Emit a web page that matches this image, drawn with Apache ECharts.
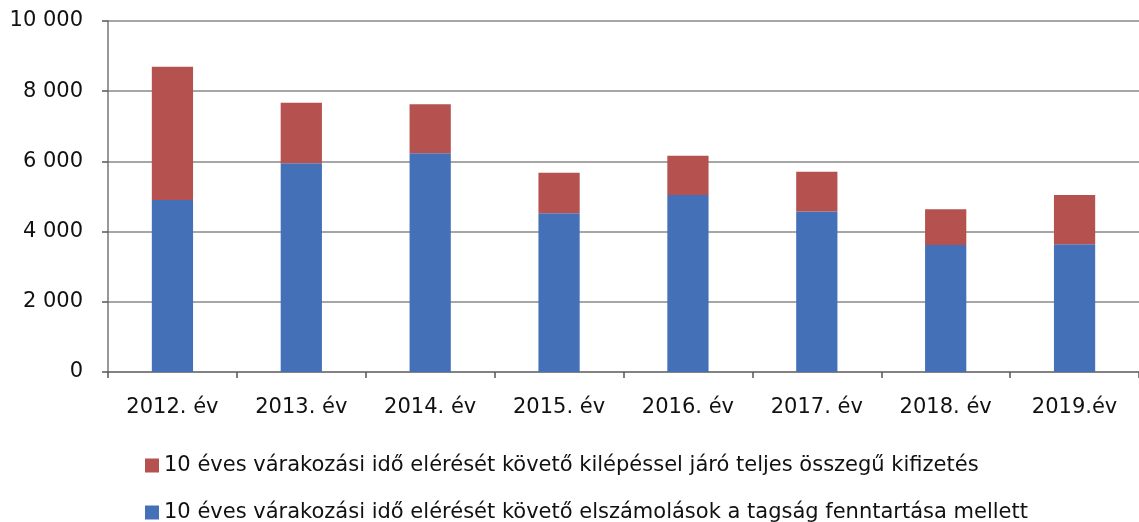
<!DOCTYPE html>
<html>
<head>
<meta charset="utf-8">
<script src="https://cdn.jsdelivr.net/npm/echarts@6/dist/echarts.min.js"></script>
<style>
  html, body { margin: 0; padding: 0; background: #fff; }
  #chart { width: 1139px; height: 522px; }
</style>
</head>
<body>
<div id="chart"></div>
<script>
// évek
var years = ['2012. év', '2013. év', '2014. év', '2015. év', '2016. év', '2017. év', '2018. év', '2019.év']
// elszámolások a tagság fenntartása mellett (kék)
var settled = [4900, 5945, 6230, 4520, 5045, 4570, 3620, 3640]
// kilépéssel járó teljes összegű kifizetés (piros)
var paidOut = [3800, 1725, 1400, 1160, 1115, 1135, 1015, 1405]

var nameRed = '10 éves várakozási idő elérését követő kilépéssel járó teljes összegű kifizetés'
var nameBlue = '10 éves várakozási idő elérését követő elszámolások a tagság fenntartása mellett'

var font = '"DejaVu Sans", sans-serif'

var myChart = echarts.init(document.getElementById('chart'))

function legendRow(name, top) {
    return {
        data: [name],
        left: 140,
        top: top,
        icon: 'rect',
        itemWidth: 14,
        itemHeight: 14,
        itemGap: 0,
        textStyle: {
            color: '#111',
            fontSize: 21,
            fontFamily: font
        }
    }
}

var option = {
    animation: false,
    grid: {
        left: 108,
        right: 0,
        top: 21,
        bottom: 150
    },
    legend: [
        legendRow(nameRed, 450),
        legendRow(nameBlue, 497)
    ],
    xAxis: {
        type: 'category',
        data: years,
        axisLine: { lineStyle: { color: '#777', width: 1.5 } },
        axisTick: { show: true, length: 6, lineStyle: { color: '#555', width: 1.5 } },
        axisLabel: {
            color: '#111',
            fontSize: 21,
            fontFamily: font,
            margin: 25
        }
    },
    yAxis: {
        type: 'value',
        min: 0,
        max: 10000,
        interval: 2000,
        axisLine: { show: true, lineStyle: { color: '#777', width: 1.5 } },
        axisTick: { show: true, length: 6, lineStyle: { color: '#555', width: 1.5 } },
        splitLine: { lineStyle: { color: '#888', width: 1.5 } },
        axisLabel: {
            color: '#111',
            fontSize: 21,
            fontFamily: font,
            margin: 25,
            formatter: function (v) {
                return String(v).replace(/\B(?=(\d{3})+(?!\d))/g, ' ')
            }
        }
    },
    series: [{
        name: nameBlue,
        type: 'bar',
        stack: 'total',
        barWidth: '32%',
        itemStyle: { color: '#4470b8' },
        data: settled
    }, {
        name: nameRed,
        type: 'bar',
        stack: 'total',
        barWidth: '32%',
        itemStyle: { color: '#b5524f' },
        data: paidOut
    }]
}

myChart.setOption(option)
</script>
</body>
</html>
